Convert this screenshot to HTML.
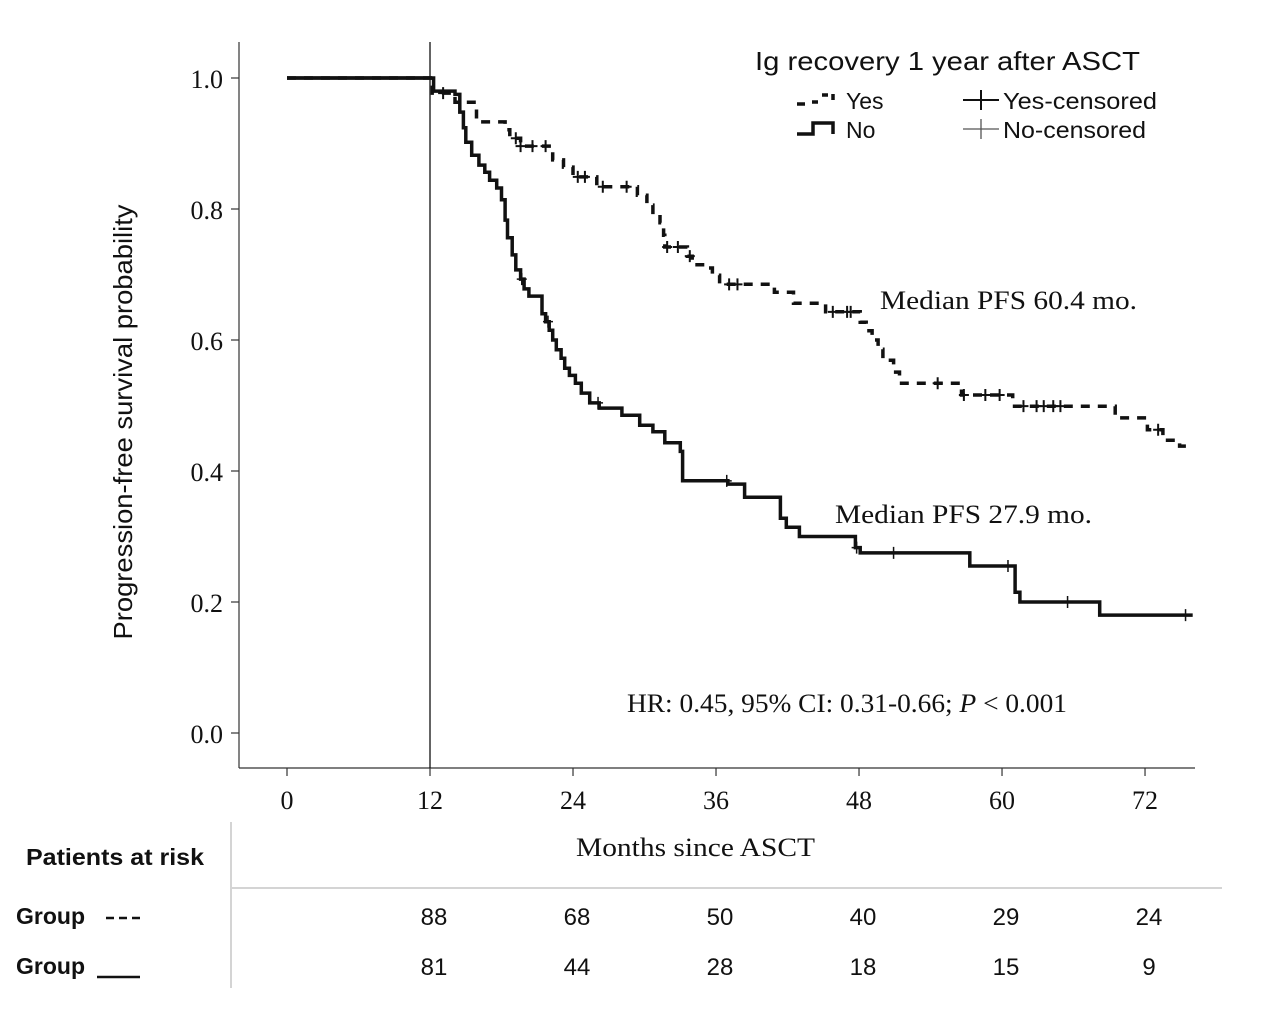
<!DOCTYPE html>
<html><head><meta charset="utf-8"><style>
html,body{margin:0;padding:0;background:#fff;}
svg{display:block;}
.tm{font-family:"Liberation Serif",serif;font-size:26px;fill:#111;}
.ar{font-family:"Liberation Sans",sans-serif;fill:#111;}
</style></head><body>
<svg id="chart" width="1280" height="1032" viewBox="0 0 1280 1032" xmlns="http://www.w3.org/2000/svg">
<g id="axes"></g>
<g id="curves"></g>
<text class="ar" x="132" y="422" font-size="26" text-anchor="middle" textLength="435" lengthAdjust="spacingAndGlyphs" transform="rotate(-90 132 422)">Progression-free survival probability</text>
<text class="tm" x="576" y="856" textLength="239" lengthAdjust="spacingAndGlyphs">Months since ASCT</text>
<text class="ar" x="755" y="70" font-size="26" textLength="385" lengthAdjust="spacingAndGlyphs">Ig recovery 1 year after ASCT</text>
<g>
<path d="M797 104 h8 M812 102 h6 M822 95 h6 M833 94 v6" stroke="#111" stroke-width="3.5" fill="none"/>
<text class="ar" x="846" y="109" font-size="23">Yes</text></g>
<g>
<path d="M797 134 h16 v-11 h20 v11" stroke="#111" stroke-width="3.5" fill="none"/>
<text class="ar" x="846" y="138" font-size="23">No</text></g>
<g>
<path d="M963 100 h36 M981 90 v20" stroke="#111" stroke-width="2" fill="none"/>
<text class="ar" x="1003" y="109" font-size="23" textLength="154" lengthAdjust="spacingAndGlyphs">Yes-censored</text></g>
<g>
<path d="M963 129 h36 M981 119 v20" stroke="#555" stroke-width="1.3" fill="none"/>
<text class="ar" x="1003" y="138" font-size="23" textLength="143" lengthAdjust="spacingAndGlyphs">No-censored</text></g>
<text class="tm" x="880" y="309" textLength="257" lengthAdjust="spacingAndGlyphs">Median PFS 60.4 mo.</text>
<text class="tm" x="835" y="523" textLength="257" lengthAdjust="spacingAndGlyphs">Median PFS 27.9 mo.</text>
<text class="tm" x="627" y="712" font-size="24" textLength="440" lengthAdjust="spacingAndGlyphs">HR: 0.45, 95% CI: 0.31-0.66; <tspan font-style="italic">P</tspan> &lt; 0.001</text>
<g>
<line x1="231" y1="822" x2="231" y2="988" stroke="#aaa" stroke-width="1"/>
<line x1="232" y1="888" x2="1222" y2="888" stroke="#aaa" stroke-width="1"/>
<text class="ar" x="26" y="865" font-size="23" font-weight="bold" textLength="178" lengthAdjust="spacingAndGlyphs">Patients at risk</text>
<text class="ar" x="16" y="924" font-size="23" font-weight="bold">Group</text>
<path d="M106 918 h8 M119 918 h8 M132 918 h8" stroke="#111" stroke-width="2.5"/>
<text class="ar" x="16" y="974" font-size="23" font-weight="bold">Group</text>
<line x1="97" y1="977" x2="140" y2="977" stroke="#111" stroke-width="2.5"/>
<g id="riskcells"></g>
</g>
</svg>
<script>
const xTicks=[0,12,24,36,48,60,72];
const yTicks=[0,0.2,0.4,0.6,0.8,1.0];
const yesTimes=[12.2,14.1,15.9,18.3,18.7,19.6,22.3,23.2,24.0,26.0,29.4,30.2,30.7,31.3,31.6,31.7,33.6,34.0,35.2,35.7,36.3,40.9,42.5,45.2,48.1,48.6,49.1,49.6,50.0,50.9,51.4,56.6,60.9,69.5,72.2,73.5,74.9];
const yesSurv=[0.977,0.963,0.933,0.921,0.908,0.896,0.875,0.864,0.849,0.834,0.821,0.806,0.791,0.779,0.760,0.742,0.728,0.715,0.710,0.699,0.685,0.673,0.656,0.643,0.627,0.614,0.600,0.586,0.569,0.551,0.534,0.516,0.499,0.481,0.463,0.447,0.438];
const yesCensor=[13.1,19.2,19.6,20.6,21.7,24.4,25.0,26.5,28.5,31.9,32.8,33.8,37.1,37.8,45.8,47.0,47.3,54.6,56.8,58.6,59.8,61.8,62.9,63.5,64.3,64.9,73.1];
const noTimes=[12.3,14.1,14.5,14.8,15.0,15.5,16.1,16.6,17.0,17.6,18.0,18.3,18.5,18.9,19.2,19.6,19.9,20.3,21.4,21.7,22.0,22.3,22.6,23.0,23.3,23.7,24.2,24.7,25.4,26.2,28.1,29.6,30.7,31.7,33.0,33.2,37.0,38.4,41.4,41.9,43.0,47.7,48.1,57.3,61.1,61.5,68.2];
const noSurv=[0.980,0.975,0.948,0.924,0.902,0.882,0.867,0.856,0.844,0.832,0.814,0.783,0.756,0.730,0.707,0.693,0.678,0.667,0.640,0.628,0.615,0.600,0.585,0.572,0.557,0.546,0.534,0.519,0.504,0.496,0.485,0.470,0.460,0.443,0.430,0.385,0.380,0.360,0.328,0.314,0.300,0.283,0.275,0.255,0.215,0.200,0.180];
const noCensor=[19.7,21.9,26.1,36.9,47.8,50.9,60.5,65.5,75.4];
const riskTimes=[12,24,36,48,60,72];
const riskYes=[88,68,50,40,29,24];
const riskNo=[81,44,28,18,15,9];
const tMax=76;
const NS="http://www.w3.org/2000/svg";
function X(m){return 287+m*11.917;}
function Y(s){return 733-s*655;}
function mk(tag,attrs,parent){const e=document.createElementNS(NS,tag);for(const k in attrs)e.setAttribute(k,attrs[k]);parent.appendChild(e);return e;}
const axes=document.getElementById('axes');
const curves=document.getElementById('curves');
let a=mk('line',{x1:239,y1:42,x2:239,y2:768,stroke:'#333','stroke-width':1.2},axes);


a=mk('line',{x1:239,y1:768,x2:1195,y2:768,stroke:'#333','stroke-width':1.2},axes);


a=mk('line',{x1:X(12),y1:42,x2:X(12),y2:768,stroke:'#111','stroke-width':1.3},axes);


xTicks.forEach(t=>{
 mk('line',{x1:X(t),y1:768,x2:X(t),y2:776,stroke:'#333','stroke-width':1.2},axes);
 const tx=mk('text',{x:X(t),y:809,'text-anchor':'middle',class:'tm'},axes);tx.textContent=t;
 
 
});
yTicks.forEach(v=>{
 mk('line',{x1:231,y1:Y(v),x2:239,y2:Y(v),stroke:'#333','stroke-width':1.2},axes);
 const tx=mk('text',{x:223,y:Y(v)+10,'text-anchor':'end',class:'tm'},axes);tx.textContent=v.toFixed(1);
 
 
});
function stepPath(times,surv){
 let d='M'+X(0)+' '+Y(1);
 for(let i=0;i<times.length;i++){d+=' H'+X(times[i]).toFixed(1)+' V'+Y(surv[i]).toFixed(1);}
 d+=' H'+X(tMax);return d;
}
function survAt(times,surv,t){let s=1;for(let i=0;i<times.length;i++){if(times[i]<=t)s=surv[i];}return s;}
let p=mk('path',{d:stepPath(noTimes,noSurv),stroke:'#111','stroke-width':3.5,fill:'none'},curves);


p=mk('path',{d:stepPath(yesTimes,yesSurv),stroke:'#111','stroke-width':3.5,fill:'none','stroke-dasharray':'9 8'},curves);


mk('path',{d:'M'+X(0)+' '+Y(1)+' H'+X(12.2),stroke:'#111','stroke-width':3.5,fill:'none'},curves);
function censor(list,times,surv,name,w){
 list.forEach(t=>{const x=X(t),y=Y(survAt(times,surv,t));
  const c=mk('path',{d:`M${x-5} ${y} h10 M${x} ${y-6} v12`,stroke:'#111','stroke-width':w,fill:'none'},curves);
  
  
 });
}
censor(yesCensor,yesTimes,yesSurv,'censor-yes',2);
censor(noCensor,noTimes,noSurv,'censor-no',1.5);
const rc=document.getElementById('riskcells');
riskTimes.forEach((t,i)=>{
 let e=mk('text',{x:X(t)+4,y:925,'text-anchor':'middle',class:'ar','font-size':24},rc);e.textContent=riskYes[i];
 
 
 e=mk('text',{x:X(t)+4,y:975,'text-anchor':'middle',class:'ar','font-size':24},rc);e.textContent=riskNo[i];
 
 
});
</script>
</body></html>
